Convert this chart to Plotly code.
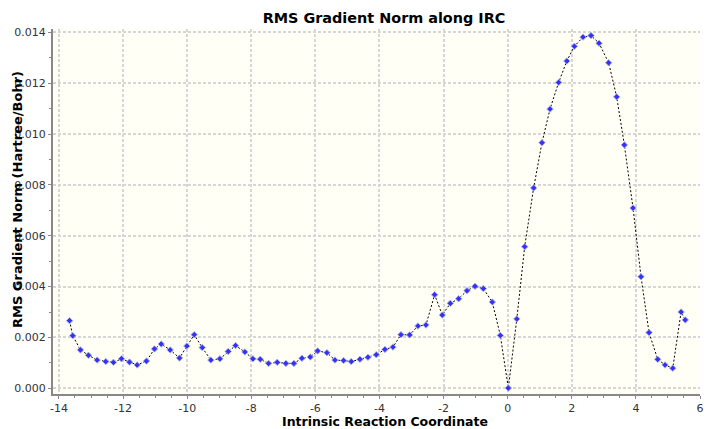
import plotly.graph_objects as go

irc_coord = [-13.67, -13.57, -13.33, -13.08, -12.81, -12.54, -12.30, -12.05, -11.80, -11.56,
             -11.27, -11.02, -10.81, -10.53, -10.24, -10.01, -9.78, -9.53, -9.26, -8.98,
             -8.72, -8.49, -8.20, -7.95, -7.72, -7.46, -7.19, -6.92, -6.67, -6.42,
             -6.16, -5.93, -5.64, -5.39, -5.12, -4.88, -4.61, -4.36, -4.10, -3.83,
             -3.58, -3.33, -3.06, -2.80, -2.55, -2.28, -2.04, -1.79, -1.53, -1.27,
             -1.02, -0.76, -0.48, -0.23, 0.02, 0.285, 0.53, 0.81, 1.07, 1.32,
             1.59, 1.845, 2.08, 2.35, 2.60, 2.85, 3.15, 3.40, 3.64, 3.91,
             4.16, 4.41, 4.68, 4.91, 5.15, 5.41, 5.54]

rms_grad = [0.00266, 0.00207, 0.00151, 0.00130, 0.00111, 0.00105, 0.00102, 0.00116, 0.00103, 0.00092,
            0.00107, 0.00155, 0.00174, 0.00151, 0.00119, 0.00166, 0.00211, 0.00160, 0.00111, 0.00116,
            0.00145, 0.00168, 0.00143, 0.00116, 0.00114, 0.00098, 0.00102, 0.00098, 0.00098, 0.00118,
            0.00123, 0.00147, 0.00140, 0.00111, 0.00109, 0.00105, 0.00114, 0.00122, 0.00132, 0.00153,
            0.00162, 0.00211, 0.00210, 0.00245, 0.00249, 0.00368, 0.00288, 0.00334, 0.00352, 0.00384,
            0.00401, 0.00392, 0.00339, 0.00208, 0.00001, 0.00273, 0.00557, 0.00788, 0.00966, 0.01098,
            0.01203, 0.01287, 0.01345, 0.01381, 0.01387, 0.01357, 0.01280, 0.01146, 0.00957, 0.00709,
            0.00439, 0.00219, 0.00114, 0.00092, 0.00079, 0.00300, 0.00269]

x_ticks = [-14, -12, -10, -8, -6, -4, -2, 0, 2, 4, 6]
y_ticks = [0.000, 0.002, 0.004, 0.006, 0.008, 0.010, 0.012, 0.014]

FONT = "DejaVu Sans"

fig = go.Figure()
fig.add_trace(go.Scatter(
    x=irc_coord, y=rms_grad, mode="lines+markers",
    line=dict(color="black", width=1, dash="2px,2px"),
    marker=dict(symbol="diamond", size=5, color="rgb(50,50,255)",
                line=dict(color="rgba(185,185,215,0.9)", width=1)),
    showlegend=False,
))

axis_common = dict(
    showline=True, linecolor="#888888", linewidth=2,
    ticks="outside", ticklen=3, tickcolor="#888888", tickwidth=1,
    showgrid=True, gridcolor="#d6d6d6", gridwidth=1.5, griddash="3px,2px",
    zeroline=False, tickfont=dict(family=FONT, size=11, color="#333333"),
    mirror=False,
)

fig.update_xaxes(
    range=[-14.186, 6.0], tickvals=x_ticks, ticktext=[str(v) for v in x_ticks],
    minor=dict(dtick=0.5, tick0=0, ticks="outside", ticklen=2, tickcolor="#888888", showgrid=False),
    **axis_common,
)
fig.update_yaxes(
    range=[-0.000224, 0.014129], tickvals=y_ticks, ticktext=[f"{v:.3f}" for v in y_ticks],
    minor=dict(dtick=0.001, tick0=0, ticks="outside", ticklen=2, tickcolor="#888888", showgrid=False),
    **axis_common,
)

fig.update_layout(
    width=708, height=429,
    margin=dict(l=53, r=4, t=29, b=35),
    paper_bgcolor="white", plot_bgcolor="#fffff6",
    title=dict(text="<b>RMS Gradient Norm along IRC</b>", x=384 / 708, xanchor="center",
               y=1 - 18 / 429, yanchor="middle", font=dict(family=FONT, size=14.4, color="black")),
    font=dict(family=FONT),
    annotations=[
        dict(text="<b>Intrinsic Reaction Coordinate</b>", xref="paper", yref="paper",
             x=(387 - 53) / 651, y=0, yanchor="bottom", xanchor="center", yshift=-35.5,
             borderpad=0, showarrow=False, font=dict(family=FONT, size=12.5, color="black")),
        dict(text="<b>RMS Gradient Norm (Hartree/Bohr)</b>", xref="paper", yref="paper",
             x=0, y=(394 - 200) / 365, xanchor="center", yanchor="middle", xshift=-36, textangle=-90,
             showarrow=False, font=dict(family=FONT, size=13, color="black")),
    ],
)

fig.write_html("out.html", config={"displayModeBar": False},
               post_script="document.body.style.margin='0';document.body.style.overflow='hidden';")
